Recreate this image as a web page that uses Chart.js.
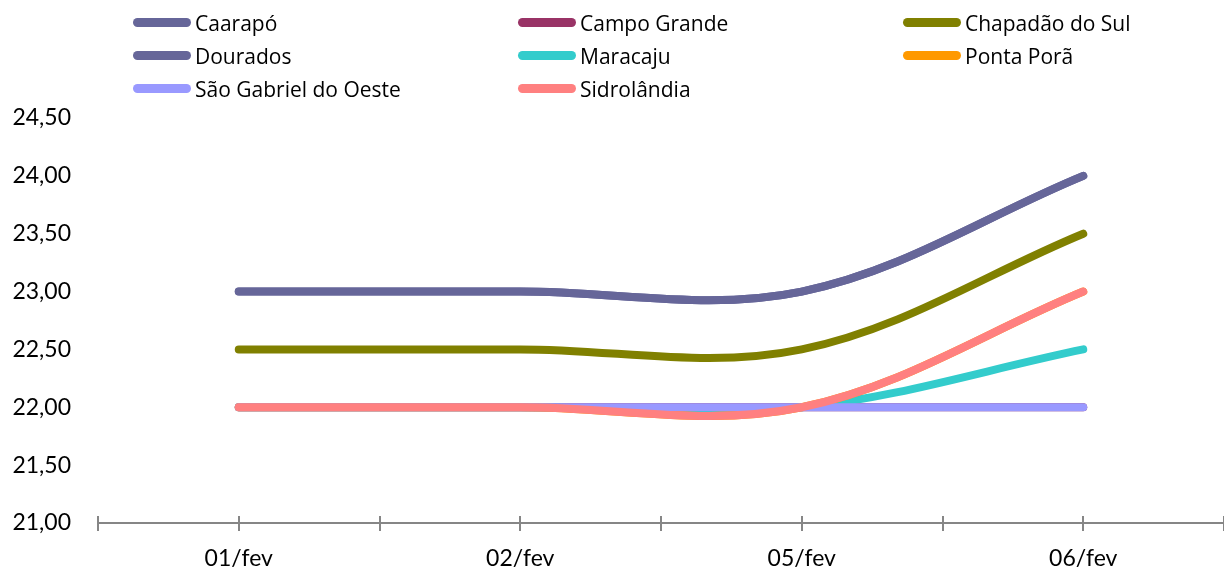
<!DOCTYPE html>
<html>
<head>
<meta charset="utf-8">
<script src="https://cdn.jsdelivr.net/npm/chart.js@4/dist/chart.umd.min.js"></script>
<style>
  body { margin: 0; background: #fff; }
  #wrap { position: relative; width: 1224px; height: 570px; }
  #legend { position: absolute; left: 133px; top: 6px; width: 1091px; display: grid;
            grid-template-columns: 385px 385px 321px; grid-auto-rows: 33px;
            font-family: 'Open Sans', sans-serif; font-size: 21px; color: #000; }
  .item { display: flex; align-items: center; white-space: nowrap; }
  .swatch { width: 58px; height: 9px; border-radius: 5px; margin-right: 4px; }
</style>
</head>
<body>
<div id="wrap">
  <canvas id="chart" width="1224" height="570"></canvas>
  <div id="legend"></div>
</div>
<script>
const categories = ['01/fev', '02/fev', '05/fev', '06/fev'];
const seriesNames = ['Caarapó', 'Campo Grande', 'Chapadão do Sul', 'Dourados',
  'Maracaju', 'Ponta Porã', 'São Gabriel do Oeste', 'Sidrolândia'];
const caarapo = [23, 23, 23, 24];
const campoGrande = [22, 22, 22, 22];
const chapadao = [22.5, 22.5, 22.5, 23.5];
const dourados = [23, 23, 23, 24];
const maracaju = [22, 22, 22, 22.5];
const pontaPora = [22, 22, 22, 23];
const saoGabriel = [22, 22, 22, 22];
const sidrolandia = [22, 22, 22, 23];
const colors = ['#666699', '#993366', '#808000', '#666699', '#33cccc', '#ff9900', '#9999ff', '#ff8080'];
const yTicks = [21, 21.5, 22, 22.5, 23, 23.5, 24, 24.5];

const allValues = [caarapo, campoGrande, chapadao, dourados, maracaju, pontaPora, saoGabriel, sidrolandia];

// legend built by hand so it can sit in three columns
const legendEl = document.getElementById('legend');
seriesNames.forEach((name, i) => {
  const item = document.createElement('div');
  item.className = 'item';
  item.innerHTML = `<span class="swatch" style="background:${colors[i]}"></span>${name}`;
  legendEl.appendChild(item);
});

const datasets = allValues.map((vals, i) => ({
  label: seriesNames[i],
  data: vals.map((v, j) => ({ x: j + 1, y: v })),
  borderColor: colors[i],
  backgroundColor: colors[i],
  borderWidth: 8,
  borderCapStyle: 'round',
  pointRadius: 0,
  tension: 0.35,
  order: allValues.length - i // later series on top
}));

// small marks crossing the x axis line
const crossTicks = {
  id: 'crossTicks',
  afterDraw(chart) {
    const xs = chart.scales.x;
    const y = chart.chartArea.bottom;
    const ctx = chart.ctx;
    ctx.save();
    ctx.strokeStyle = '#868686';
    ctx.lineWidth = 2;
    ctx.beginPath();
    ctx.moveTo(chart.chartArea.left, y);
    ctx.lineTo(chart.chartArea.right, y);
    for (let v = 0.5; v <= 4.5; v += 0.5) {
      const px = Math.round(xs.getPixelForValue(v));
      ctx.moveTo(px, y - 7);
      ctx.lineTo(px, y + 8);
    }
    ctx.stroke();
    ctx.restore();
  }
};

new Chart(document.getElementById('chart'), {
  type: 'line',
  data: { datasets },
  plugins: [crossTicks],
  options: {
    responsive: false,
    animation: false,
    layout: { padding: { top: 118, right: 0, bottom: 0, left: 0 } },
    plugins: { legend: { display: false }, tooltip: { enabled: false } },
    scales: {
      x: {
        type: 'linear',
        min: 0.5,
        max: 4.5,
        afterBuildTicks: (scale) => { scale.ticks = [1, 2, 3, 4].map(v => ({ value: v })); },
        afterFit: (scale) => { scale.height = 47; },
        grid: { display: false },
        border: { display: false },
        ticks: {
          color: '#000',
          padding: 14,
          font: { family: 'Lato', size: 23 },
          maxRotation: 0,
          callback: (v) => categories[v - 1] || ''
        }
      },
      y: {
        min: 21,
        max: 24.5,
        afterBuildTicks: (scale) => { scale.ticks = yTicks.map(v => ({ value: v })); },
        afterFit: (scale) => { scale.width = 98; },
        grid: { display: false },
        border: { display: false },
        ticks: {
          color: '#000',
          padding: 19,
          font: { family: 'Lato', size: 23 },
          callback: (v) => v.toFixed(2).replace('.', ',')
        }
      }
    }
  }
});
</script>
</body>
</html>
